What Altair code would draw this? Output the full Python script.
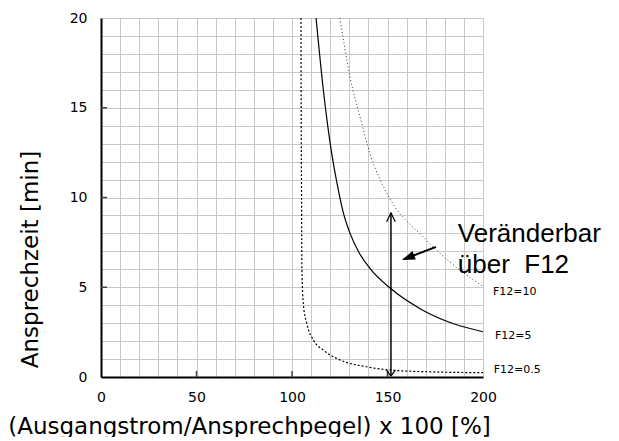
import altair as alt
import pandas as pd

# ---- data ----
x_f5 = [112.6, 116.4, 120.0, 124.3, 127.0, 130.4, 135.0, 140.8, 151.5, 168.0, 185.0, 200.0]
y_f5 = [20.0, 16.0, 13.0, 10.4, 9.1, 8.0, 6.95, 6.05, 4.94, 3.75, 2.95, 2.52]

x_f10 = [125.1, 130.4, 135.6, 140.8, 150.4, 168.7, 175.8, 188.0, 200.0]
y_f10 = [20.0, 16.7, 14.5, 12.46, 10.1, 7.8, 7.05, 5.95, 5.05]

x_f05 = [104.7, 104.8, 105.0, 105.2, 105.9, 107.7, 111.2, 116.4, 125.1, 139.0, 151.0, 175.0, 200.0]
y_f05 = [20.0, 15.0, 10.0, 6.0, 4.1, 3.0, 2.06, 1.5, 0.95, 0.57, 0.39, 0.28, 0.24]

curve_labels = ["F12=10", "F12=5", "F12=0.5"]
label_x = [205.2, 206.3, 205.6]
label_y = [4.74, 2.31, 0.39]

note_lines = ["Veränderbar", "über\u00a0\u00a0F12"]
note_x = [186.8, 186.8]
note_y = [7.52, 5.8]

# arrow segments (vertical double arrow and pointer)
seg_x1 = [151.8, 149.55, 154.05, 149.5, 154.1, 175.4]
seg_y1 = [0.05, 8.65, 8.65, 0.38, 0.38, 7.25]
seg_x2 = [151.8, 151.8, 151.8, 151.8, 151.8, 158.5]
seg_y2 = [9.15, 9.15, 9.15, 0.05, 0.05, 6.56]
pointer_tip_x = [157.6]
pointer_tip_y = [6.52]

x_grid = list(range(0, 201, 10))
y_grid = list(range(0, 21, 1))
x_minor_ticks = [50, 100, 150]
y_minor_ticks = [5, 10, 15]

x_title = "(Ausgangstrom/Ansprechpegel) x 100 [%]"
y_title = "Ansprechzeit [min]"

# ---- build ----
xs = alt.Scale(domain=[0, 200], nice=False, zero=False)
ys = alt.Scale(domain=[0, 20], nice=False, zero=False)

x_axis = alt.Axis(
    values=x_grid, labelExpr="datum.value % 50 == 0 ? datum.label : ''",
    ticks=False, grid=True, gridColor="#c8c8c8", gridWidth=1,
    domainColor="#000000", domainWidth=2, labelFlush=False, labelOverlap=False,
    labelFont="DejaVu Sans", labelFontSize=14, labelColor="#000000", labelPadding=13,
    title=x_title, titleFont="DejaVu Sans", titleFontSize=23, titleFontWeight="normal",
    titleColor="#000000", titleX=148, titleY=56, titleAlign="center", titleBaseline="alphabetic",
)
y_axis = alt.Axis(
    values=y_grid, labelExpr="datum.value % 5 == 0 ? datum.label : ''",
    ticks=False, grid=True, gridColor="#c8c8c8", gridWidth=1,
    domainColor="#000000", domainWidth=2, labelFlush=False, labelOverlap=False,
    labelFont="DejaVu Sans", labelFontSize=14, labelColor="#000000", labelPadding=14,
    title=y_title, titleFont="DejaVu Sans", titleFontSize=23, titleFontWeight="normal",
    titleColor="#000000", titleX=-64, titleY=241, titleAngle=270, titleAlign="center",
    titleBaseline="alphabetic",
)


def X(field):
    return alt.X(field, scale=xs, axis=x_axis)


def Y(field):
    return alt.Y(field, scale=ys, axis=y_axis)


df5 = pd.DataFrame({"x": x_f5, "y": y_f5})
df10 = pd.DataFrame({"x": x_f10, "y": y_f10})
df05 = pd.DataFrame({"x": x_f05, "y": y_f05})

c5 = alt.Chart(df5).mark_line(color="#000000", strokeWidth=1.2, interpolate="monotone", clip=True).encode(
    x=X("x:Q"), y=Y("y:Q"))
c10 = alt.Chart(df10).mark_line(color="#333333", strokeWidth=1, strokeDash=[1, 2.5], interpolate="monotone", clip=True).encode(
    x=X("x:Q"), y=Y("y:Q"))
c05 = alt.Chart(df05).mark_line(color="#000000", strokeWidth=1.2, strokeDash=[2, 2], interpolate="monotone", clip=True).encode(
    x=X("x:Q"), y=Y("y:Q"))

xt = alt.Chart(pd.DataFrame({"v": x_minor_ticks})).mark_rule(color="#444444", strokeWidth=1.5).encode(
    x=X("v:Q"), y=alt.value(359), y2=alt.value(353))
yt = alt.Chart(pd.DataFrame({"v": y_minor_ticks})).mark_rule(color="#444444", strokeWidth=1.5).encode(
    y=Y("v:Q"), x=alt.value(0), x2=alt.value(6))

segs = alt.Chart(pd.DataFrame({"x1": seg_x1, "y1": seg_y1, "x2": seg_x2, "y2": seg_y2,
                               "w": [1.5, 1.2, 1.2, 1.2, 1.2, 2.0]})).mark_rule(color="#000000").encode(
    x=X("x1:Q"), y=Y("y1:Q"), x2="x2:Q", y2="y2:Q",
    strokeWidth=alt.StrokeWidth("w:Q", scale=None, legend=None))

head = alt.Chart(pd.DataFrame({"x": pointer_tip_x, "y": pointer_tip_y})).mark_point(
    shape="M0,0L-0.45,1.3L0.45,1.3Z", filled=True, size=400, angle=248.8, color="#000000", opacity=1).encode(
    x=X("x:Q"), y=Y("y:Q"))

lbl = alt.Chart(pd.DataFrame({"x": label_x, "y": label_y, "t": curve_labels})).mark_text(
    align="left", baseline="middle", font="DejaVu Sans", fontSize=11, color="#000000").encode(
    x=X("x:Q"), y=Y("y:Q"), text="t:N")

note = alt.Chart(pd.DataFrame({"x": note_x, "y": note_y, "t": note_lines})).mark_text(
    align="left", baseline="alphabetic", font="Liberation Sans", fontSize=26, color="#000000").encode(
    x=X("x:Q"), y=Y("y:Q"), text="t:N")

chart = alt.layer(c5, c10, c05, xt, yt, segs, head, lbl, note).properties(
    width=382, height=359,
    autosize=alt.AutoSizeParams(type="none"),
    padding={"left": 93, "top": 10, "right": 120, "bottom": 60},
).configure_view(stroke="#222222", strokeWidth=1.5).configure(background="white")

chart.save("out.html", embed_options={"renderer": "svg", "actions": False})
